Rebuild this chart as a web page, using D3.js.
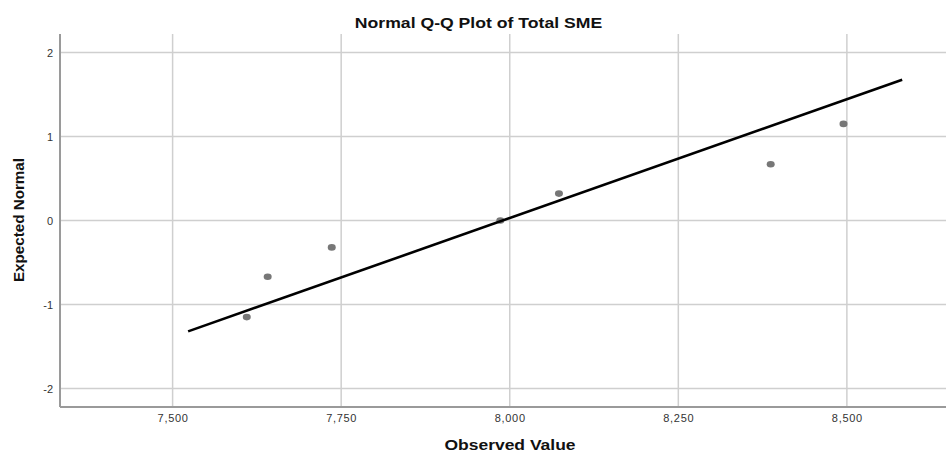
<!DOCTYPE html>
<html>
<head>
<meta charset="utf-8">
<script src="https://cdn.jsdelivr.net/npm/d3@7"></script>
<style>
  body { margin: 0; background: #fff; }
  svg { display: block; }
</style>
</head>
<body>
<svg id="chart" width="947" height="452"></svg>
<script>
// ---- data ----
const observedValues = [7610, 7641, 7736, 7986, 8073, 8387, 8495];
const expectedNormal = [-1.15, -0.67, -0.32, 0.0, 0.32, 0.67, 1.15];
const lineObservedEnds = [7523, 8582];
const xTickValues = [7500, 7750, 8000, 8250, 8500];
const yTickValues = [-2, -1, 0, 1, 2];
const chartTitle = "Normal Q-Q Plot of Total SME";
const xTitle = "Observed Value";
const yTitle = "Expected Normal";

// ---- layout ----
const W = 947, H = 452;
const plot = { left: 60, right: 946, top: 34, bottom: 407 };
const FONT = "Arial, 'Liberation Sans', sans-serif";

const svg = d3.select("#chart");
const x = d3.scaleLinear().domain([7333, 8647]).range([plot.left, plot.right]);
const y = d3.scaleLinear().domain([-2.22, 2.22]).range([plot.bottom, plot.top]);

// reference line: z = (x - mean) / sd
const mean = d3.mean(observedValues);
const sd = d3.deviation(observedValues);

// gridlines
const grid = svg.append("g");
grid.selectAll("line.vx").data(xTickValues).enter().append("line")
  .attr("x1", d => x(d)).attr("x2", d => x(d))
  .attr("y1", plot.top).attr("y2", plot.bottom)
  .attr("stroke", "#cfcfcf").attr("stroke-width", 1.5);
grid.selectAll("line.hy").data(yTickValues).enter().append("line")
  .attr("x1", plot.left).attr("x2", plot.right)
  .attr("y1", d => y(d)).attr("y2", d => y(d))
  .attr("stroke", "#cfcfcf").attr("stroke-width", 1.5);

// axes
const xAxis = d3.axisBottom(x).tickValues(xTickValues).tickSize(0).tickPadding(7)
  .tickFormat(d3.format(","));
const gx = svg.append("g").attr("transform", `translate(0,${plot.bottom})`).call(xAxis);
gx.select(".domain").attr("stroke", "#9a9a9a").attr("stroke-width", 2)
  .attr("d", `M${plot.left},0H${plot.right}`);
gx.selectAll("text").attr("font-family", FONT)
  .attr("font-size", 11).attr("letter-spacing", 0.7).attr("fill", "#333");

const yAxis = d3.axisLeft(y).tickValues(yTickValues).tickSize(0).tickPadding(7)
  .tickFormat(d => String(d));
const gy = svg.append("g").attr("transform", `translate(${plot.left},0)`).call(yAxis);
gy.select(".domain").attr("stroke", "#9a9a9a").attr("stroke-width", 2)
  .attr("d", `M0,${plot.top}V${plot.bottom}`);
gy.selectAll("text").attr("font-family", FONT)
  .attr("font-size", 11).attr("fill", "#333");

// points
svg.append("g").selectAll("ellipse").data(observedValues).enter().append("ellipse")
  .attr("cx", d => x(d))
  .attr("cy", (d, i) => y(expectedNormal[i]))
  .attr("rx", 4).attr("ry", 3.3)
  .attr("fill", "#777");

// reference line
const line = d3.line().x(d => x(d)).y(d => y((d - mean) / sd));
svg.append("path").datum(lineObservedEnds)
  .attr("d", line)
  .attr("fill", "none").attr("stroke", "#000").attr("stroke-width", 2.6);

// titles
svg.append("text").attr("transform", "translate(478.5,28) scale(1.26,1)")
  .attr("text-anchor", "middle")
  .attr("font-family", FONT)
  .attr("font-weight", "bold").attr("font-size", 14).attr("fill", "#111")
  .text(chartTitle);

svg.append("text").attr("transform", "translate(510,450) scale(1.25,1)")
  .attr("text-anchor", "middle")
  .attr("font-family", FONT)
  .attr("font-weight", "bold").attr("font-size", 14).attr("fill", "#111")
  .text(xTitle);

svg.append("text")
  .attr("transform", "translate(24,220) rotate(-90)")
  .attr("text-anchor", "middle")
  .attr("font-family", FONT)
  .attr("font-weight", "bold").attr("font-size", 15).attr("fill", "#111")
  .attr("textLength", 124).attr("lengthAdjust", "spacingAndGlyphs")
  .text(yTitle);
</script>
</body>
</html>
